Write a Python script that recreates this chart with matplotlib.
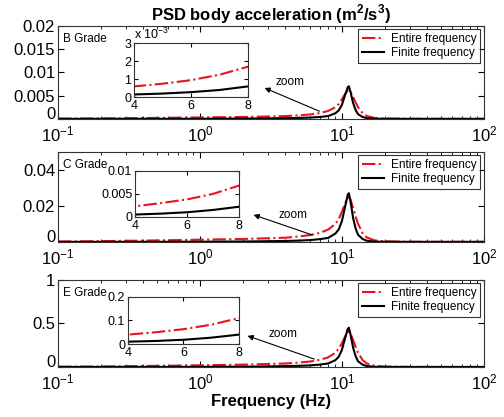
import matplotlib
matplotlib.use("Agg")
import matplotlib.pyplot as plt
import numpy as np

plt.rcParams['font.family'] = ['Liberation Sans', 'DejaVu Sans']
plt.rcParams['mathtext.fontset'] = 'custom'
plt.rcParams['mathtext.rm'] = 'Liberation Sans'
plt.rcParams['mathtext.bf'] = 'Liberation Sans:bold'

# frequency samples (Hz)
freq = [0.1, 0.2, 0.5, 1, 2, 3, 4, 5, 6, 7, 8, 9, 9.5, 10, 10.5, 11, 11.2,
        11.5, 12, 12.5, 13, 14, 15, 17, 20, 30, 50, 100]

# PSD values
b_entire = [0.00005, 0.0001, 0.0002, 0.0003, 0.0004, 0.0005, 0.0006, 0.00075,
            0.00095, 0.00125, 0.0017, 0.0025, 0.0032, 0.0042, 0.0053, 0.0061,
            0.0062, 0.0059, 0.0047, 0.0035, 0.0025, 0.0012, 0.0006, 0.0002,
            0.00007, 0.00001, 0.0, 0.0]
b_finite = [0.0, 0.0, 0.00001, 0.00002, 0.00006, 0.0001, 0.00015, 0.0002,
            0.00028, 0.0004, 0.0006, 0.0012, 0.0018, 0.003, 0.005, 0.0068,
            0.007, 0.0058, 0.0034, 0.0019, 0.001, 0.0004, 0.00015, 0.00003,
            0.00001, 0.0, 0.0, 0.0]

c_entire = [0.0002, 0.0004, 0.0008, 0.0012, 0.0016, 0.002, 0.0023, 0.003,
            0.0038, 0.005, 0.0068, 0.0099, 0.0127, 0.0166, 0.021, 0.0243,
            0.0248, 0.0235, 0.0188, 0.014, 0.01, 0.0048, 0.0024, 0.0008,
            0.0003, 0.00004, 0.0, 0.0]
c_finite = [0.0, 0.0, 0.00003, 0.00007, 0.0002, 0.00035, 0.0005, 0.0007,
            0.001, 0.0015, 0.0022, 0.0046, 0.0069, 0.0115, 0.019, 0.0262,
            0.027, 0.0225, 0.0132, 0.0074, 0.0039, 0.0016, 0.0006, 0.00012,
            0.00004, 0.0, 0.0, 0.0]

e_entire = [0.003, 0.006, 0.013, 0.019, 0.027, 0.034, 0.04, 0.05, 0.063,
            0.082, 0.11, 0.163, 0.209, 0.272, 0.345, 0.398, 0.405, 0.384,
            0.307, 0.229, 0.163, 0.079, 0.039, 0.013, 0.0045, 0.0006, 0.0, 0.0]
e_finite = [0.0, 0.0, 0.0006, 0.0012, 0.0035, 0.006, 0.01, 0.013, 0.018,
            0.027, 0.04, 0.078, 0.117, 0.195, 0.323, 0.437, 0.45, 0.375,
            0.22, 0.123, 0.065, 0.026, 0.01, 0.002, 0.0007, 0.0, 0.0, 0.0]

grades = ['B Grade', 'C Grade', 'E Grade']
entire = [b_entire, c_entire, e_entire]
finite = [b_finite, c_finite, e_finite]
main_ylim = [0.02, 0.05, 1.0]
main_yticks = [[0, 0.005, 0.01, 0.015, 0.02], [0, 0.02, 0.04], [0, 0.5, 1]]
main_ylabels = [['0', '0.005', '0.01', '0.015', '0.02'], ['0', '0.02', '0.04'],
                ['0', '0.5', '1']]
inset_scale = [1e3, 1, 1]
inset_ylim = [3, 0.01, 0.2]
inset_yticks = [[0, 1, 2, 3], [0, 0.005, 0.01], [0, 0.1, 0.2]]
inset_ylabels = [['0', '1', '2', '3'], ['0', '0.005', '0.01'], ['0', '0.1', '0.2']]

main_pos = [[0.115, 0.715, 0.845, 0.223],
            [0.115, 0.420, 0.845, 0.216],
            [0.115, 0.120, 0.845, 0.209]]
inset_pos = [[0.266, 0.767, 0.226, 0.129],
             [0.268, 0.480, 0.206, 0.110],
             [0.254, 0.175, 0.220, 0.113]]
arrow_tail = [(0.62, 0.07), (0.603, 0.067), (0.608, 0.08)]
arrow_head = [(0.479, 0.344), (0.453, 0.31), (0.439, 0.368)]
zoom_txt = [(0.545, 0.40), (0.552, 0.30), (0.528, 0.38)]

red = '#e8141c'
frame_col = '#333333'

fig = plt.figure(figsize=(5.04, 4.17), dpi=100)

def style(ax, size):
    ax.tick_params(which='both', direction='in', top=True, right=True,
                   labelsize=size, colors='black', pad=2)
    for s in ax.spines.values():
        s.set_color(frame_col)
        s.set_linewidth(0.8)

for i in range(3):
    ax = fig.add_axes(main_pos[i])
    ax.set_xscale('log')
    ax.plot(freq, entire[i], '-.', color=red, lw=1.5, label='Entire frequency')
    ax.plot(freq, finite[i], '-', color='black', lw=1.5, label='Finite frequency')
    ax.set_xlim(0.1, 100)
    ax.set_ylim(0, main_ylim[i])
    ax.set_yticks(main_yticks[i])
    ax.set_yticklabels(main_ylabels[i])
    style(ax, 12)
    ax.tick_params(which='major', length=4)
    ax.tick_params(which='minor', length=2)
    ax.tick_params(axis='x', pad=4)
    # keep the "0" label clear of the 10^-1 label below it
    ax.yaxis.get_major_ticks()[0].label1.set_va('baseline')
    ax.text(0.012, 0.92, grades[i], transform=ax.transAxes, ha='left',
            va='top', fontsize=8.5)
    leg = ax.legend(loc='upper right', fontsize=8.5, frameon=True,
                    fancybox=False, borderaxespad=0.3, handlelength=1.9,
                    borderpad=0.3, labelspacing=0.2, handletextpad=0.6)
    leg.get_frame().set_edgecolor('black')
    leg.get_frame().set_linewidth(0.8)
    ax.annotate('', xy=arrow_head[i], xycoords='axes fraction',
                xytext=arrow_tail[i], textcoords='axes fraction',
                arrowprops=dict(arrowstyle='-|>', color='black', lw=0.8,
                                mutation_scale=8))
    ax.text(zoom_txt[i][0], zoom_txt[i][1], 'zoom', transform=ax.transAxes,
            ha='center', va='center', fontsize=8.5)
    if i == 0:
        ax.set_title(r'PSD body acceleration (m$^\mathbf{2}$/s$^\mathbf{3}$)',
                     fontsize=12, fontweight='bold', pad=4)
    if i == 2:
        ax.set_xlabel('Frequency (Hz)', fontsize=12, fontweight='bold',
                      labelpad=1)

    ins = fig.add_axes(inset_pos[i])
    ins.plot(freq, np.array(entire[i]) * inset_scale[i], '-.', color=red, lw=1.5)
    ins.plot(freq, np.array(finite[i]) * inset_scale[i], '-', color='black', lw=1.5)
    ins.set_xlim(4, 8)
    ins.set_ylim(0, inset_ylim[i])
    ins.set_xticks([4, 6, 8])
    ins.set_yticks(inset_yticks[i])
    ins.set_yticklabels(inset_ylabels[i])
    style(ins, 9)
    ins.tick_params(length=3)
    if i == 0:
        ins.text(0.0, 1.02, r'x 10$^{-3}$', transform=ins.transAxes,
                 ha='left', va='bottom', fontsize=9)

fig.savefig('out.png', dpi=100)
